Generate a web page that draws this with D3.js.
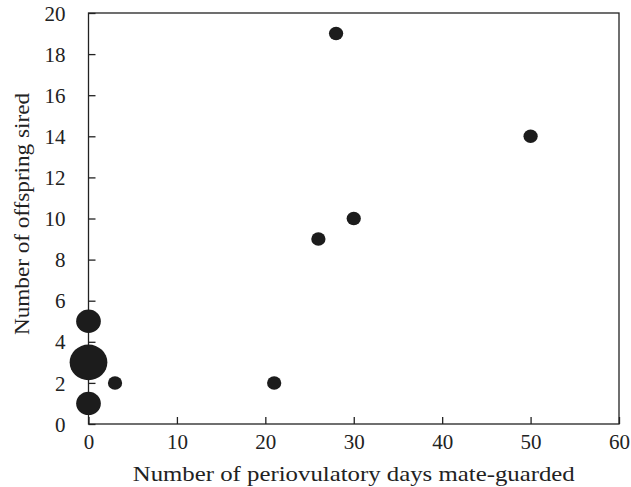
<!DOCTYPE html>
<html>
<head>
<meta charset="utf-8">
<script src="https://cdn.jsdelivr.net/npm/d3@7"></script>
<style>
  body { margin: 0; background: #fff; }
  svg text { font-family: "Liberation Serif", "Times New Roman", serif; fill: #222; }
</style>
</head>
<body>
<script>
// days mate-guarded, offspring sired, number of males at that point
var daysGuarded = [0, 0, 0, 3, 21, 26, 28, 30, 50];
var offspring   = [5, 3, 1, 2, 2, 9, 19, 10, 14];
var males       = [3, 7, 3, 1, 1, 1, 1, 1, 1];
var xTicks = [0, 10, 20, 30, 40, 50, 60];
var yTicks = [0, 2, 4, 6, 8, 10, 12, 14, 16, 18, 20];

var W = 631, H = 487;
var margin = {top: 13, right: 12, bottom: 63, left: 88.5};
var width = W - margin.left - margin.right,
    height = H - margin.top - margin.bottom;

var x = d3.scaleLinear().domain([0, 60]).range([0, width]);
var y = d3.scaleLinear().domain([0, 20]).range([height, 0]);
var r = d3.scaleSqrt().domain([0, 7]).range([0, 17.8]);

var svg = d3.select("body").append("svg")
    .attr("width", W)
    .attr("height", H);
var g = svg.append("g")
    .attr("transform", "translate(" + margin.left + "," + margin.top + ")");

// frame
g.append("rect")
    .attr("width", width)
    .attr("height", height)
    .attr("fill", "none")
    .attr("stroke", "#222")
    .attr("stroke-width", 1.3);

var xAxis = g.append("g")
    .attr("transform", "translate(0," + height + ")")
    .call(d3.axisBottom(x).tickValues(xTicks).tickSizeInner(-7).tickSizeOuter(0).tickPadding(10));
var yAxis = g.append("g")
    .call(d3.axisLeft(y).tickValues(yTicks).tickSizeInner(-7).tickSizeOuter(0).tickPadding(23));

[xAxis, yAxis].forEach(function(a) {
  a.select(".domain").remove();
  a.selectAll("line").attr("stroke", "#222").attr("stroke-width", 1.3);
  a.selectAll("text").style("font-size", "21px");
});
yAxis.selectAll("text").attr("dy", "0.34em");

var pts = daysGuarded.map(function(d, i) {
  return {x: d, y: offspring[i], n: males[i]};
});

g.selectAll("ellipse.pt")
    .data(pts)
  .enter().append("ellipse")
    .attr("class", "pt")
    .attr("cx", function(d) { return x(d.x); })
    .attr("cy", function(d) { return y(d.y); })
    .attr("rx", function(d) { return r(d.n) * 1.06; })
    .attr("ry", function(d) { return r(d.n); })
    .attr("fill", "#1c1c1c");

svg.append("text")
    .attr("x", margin.left + width / 2)
    .attr("y", 481)
    .attr("text-anchor", "middle")
    .attr("textLength", 442)
    .attr("lengthAdjust", "spacingAndGlyphs")
    .style("font-size", "21px")
    .text("Number of periovulatory days mate-guarded");

svg.append("text")
    .attr("transform", "translate(29,214) rotate(-90)")
    .attr("text-anchor", "middle")
    .attr("textLength", 242)
    .attr("lengthAdjust", "spacingAndGlyphs")
    .style("font-size", "21px")
    .text("Number of offspring sired");
</script>
</body>
</html>
